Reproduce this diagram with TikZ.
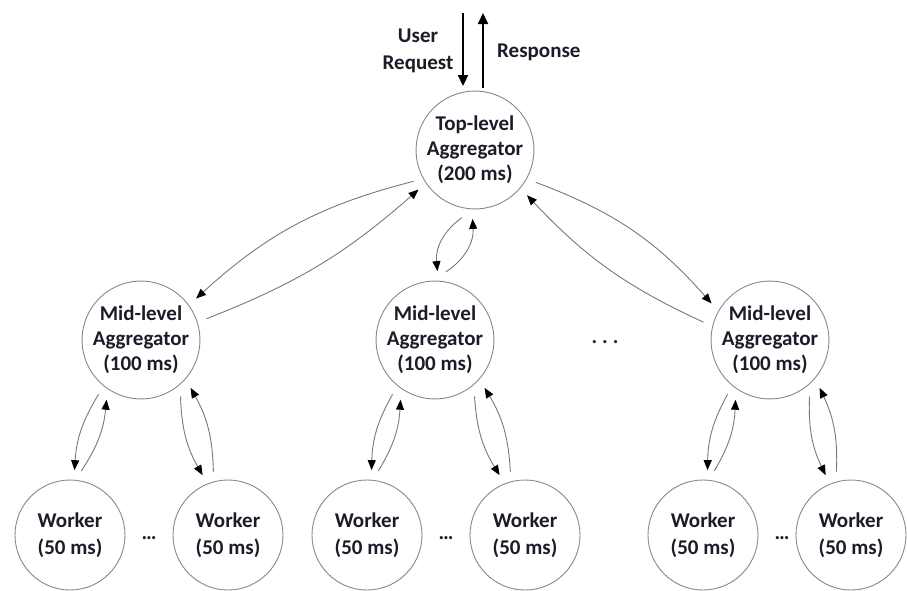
\documentclass[tikz,border=0pt]{standalone}
\usepackage{fontspec}
\setmainfont{Carlito}
\usetikzlibrary{arrows.meta}

\definecolor{ringgray}{RGB}{135,135,135}
\definecolor{linkgray}{RGB}{120,120,120}
\definecolor{inkdark}{RGB}{28,28,40}

\tikzset{
  stage/.style={circle, draw=ringgray, line width=0.9pt, inner sep=0pt,
    outer sep=10pt, align=center, text=inkdark,
    font=\fontsize{21}{25}\selectfont\bfseries},
  topagg/.style={stage, minimum size=114pt},
  midagg/.style={stage, minimum size=114pt},
  worker/.style={stage, minimum size=110pt,
    font=\fontsize{21}{27}\selectfont\bfseries},
  link/.style={draw=linkgray, line width=0.9pt,
    -{Triangle[length=10pt,width=8pt,color=black]}},
  bigarrow/.style={draw=black, line width=1.8pt,
    -{Triangle[length=11pt,width=10pt]}},
  lbl/.style={inner sep=0pt, align=center, text=inkdark,
    font=\fontsize{21}{27}\selectfont\bfseries},
  gapdots/.style={inner sep=0pt, text=inkdark,
    font=\fontsize{21}{25}\selectfont\bfseries}
}

\begin{document}
\begin{tikzpicture}[x=1pt, y=-1pt]
  \useasboundingbox (0,0) rectangle (907,590);

  % aggregation tree
  \node[topagg] (top) at (475,150) {Top-level\\Aggregator\\(200 ms)};

  \node[midagg] (m1) at (141,340) {Mid-level\\Aggregator\\(100 ms)};
  \node[midagg] (m2) at (435,340) {Mid-level\\Aggregator\\(100 ms)};
  \node[midagg] (m3) at (770,340) {Mid-level\\Aggregator\\(100 ms)};

  \node[worker] (w1a) at (70,535)  {Worker\\(50 ms)};
  \node[worker] (w1b) at (228,535) {Worker\\(50 ms)};
  \node[worker] (w2a) at (367,535) {Worker\\(50 ms)};
  \node[worker] (w2b) at (525,535) {Worker\\(50 ms)};
  \node[worker] (w3a) at (703,535) {Worker\\(50 ms)};
  \node[worker] (w3b) at (851,535) {Worker\\(50 ms)};

  % elided siblings
  \node[gapdots] (d0) at (605,342) {.\hspace{5pt}.\hspace{5pt}.};
  \node[gapdots] (d1) at (149,538) {\char"2026};
  \node[gapdots] (d2) at (446,538) {\char"2026};
  \node[gapdots] (d3) at (782,538) {\char"2026};

  % client request and response
  \coordinate (ureq) at (463,13);
  \coordinate (resp) at (483,13);
  \draw[bigarrow, shorten >=-5pt] (ureq) -- (ureq |- top.north);
  \draw[bigarrow, shorten <=-7pt] (resp |- top.north) -- (resp);
  \node[lbl] (ureqlbl) at (418,51) {User\\Request};
  \node[lbl, anchor=west] (resplbl) at (497,52) {Response};

  % top-level <-> mid-level
  \draw[link] (top.207) to[bend right=14] (m1.37);
  \draw[link] (m1.18)   to[bend right=10] (top.215);
  \draw[link] (top.259) to[bend right=30] (m2.88);
  \draw[link] (m2.81)   to[bend right=30] (top.268);
  \draw[link] (top.-28) to[bend left=14]  (m3.148);
  \draw[link] (m3.165)  to[bend left=11]  (top.-41);

  % mid-level <-> workers
  \foreach \m in {1,2,3} {
    \draw[link] (m\m.232) to[bend right=14] (w\m a.86);
    \draw[link] (w\m a.80) to[bend right=14] (m\m.240);
    \draw[link] (m\m.305) to[bend right=14] (w\m b.113);
    \draw[link] (w\m b.103) to[bend right=14] (m\m.316);
  }
\end{tikzpicture}
\end{document}
